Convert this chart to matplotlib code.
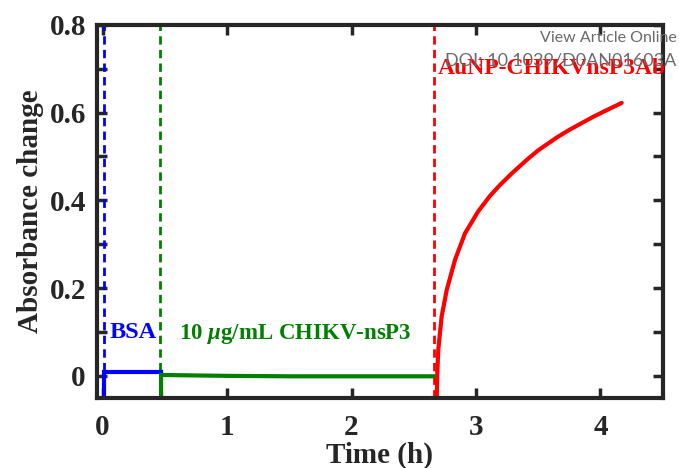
import matplotlib
matplotlib.use("Agg")
import matplotlib.pyplot as plt
from matplotlib.ticker import MultipleLocator

plt.rcParams['font.family'] = 'Liberation Serif'
plt.rcParams['font.weight'] = 'bold'
plt.rcParams['mathtext.fontset'] = 'custom'
plt.rcParams['mathtext.it'] = 'Liberation Serif:italic:bold'
plt.rcParams['mathtext.rm'] = 'Liberation Serif:bold'

# step traces (h, absorbance change)
bsa_t = [0.015, 0.015, 0.47]
bsa_a = [-0.06, 0.008, 0.008]
nsp3_t = [0.47, 0.47, 1.0, 1.5, 2.0, 2.68]
nsp3_a = [-0.06, 0.002, 0.000, -0.001, -0.001, -0.001]
# AuNP-Ab response
ab_t = [2.684, 2.689, 2.697, 2.724, 2.765, 2.831, 2.912, 3.018, 3.112, 3.193,
        3.29, 3.407, 3.50, 3.648, 3.74, 3.862, 3.96, 4.17]
ab_a = [-0.06, 0.006, 0.059, 0.135, 0.196, 0.264, 0.325, 0.375, 0.410, 0.435,
        0.462, 0.492, 0.514, 0.543, 0.559, 0.578, 0.593, 0.622]

# injection times
t_bsa = 0.015
t_nsp3 = 0.46
t_ab = 2.665

fig = plt.figure(figsize=(6.79, 4.68), dpi=100)
ax = fig.add_axes([0.143, 0.15, 0.833, 0.797])

for t, c in [(t_bsa, 'blue'), (t_nsp3, '#008000'), (t_ab, 'red')]:
    ax.axvline(t, color=c, ls='--', lw=2, dashes=(3, 1.9))

ax.plot(bsa_t, bsa_a, color='blue', lw=3, solid_joinstyle='miter')
ax.plot(nsp3_t, nsp3_a, color='#008000', lw=3, solid_joinstyle='miter')
ax.plot(ab_t, ab_a, color='red', lw=3, solid_joinstyle='round', solid_capstyle='round')

ax.text(0.06, 0.098, 'BSA', color='blue', fontsize=17.5, va='center')
ax.text(0.61, 0.095, r'10 $\mu$g/mL CHIKV-nsP3', color='#008000', fontsize=16.5, va='center')
ax.text(2.69, 0.70, 'AuNP-CHIKVnsP3Ab', color='red', fontsize=17, va='center')

ax.set_xlim(-0.044, 4.5)
ax.set_ylim(-0.05, 0.8)
ax.xaxis.set_major_locator(MultipleLocator(1))
ax.yaxis.set_minor_locator(MultipleLocator(0.1))
ax.set_yticks([0, 0.2, 0.4, 0.6, 0.8])
ax.set_yticklabels(['0', '0.2', '0.4', '0.6', '0.8'])
ax.tick_params(which='both', direction='in', top=True, right=True,
               labelsize=21, width=2.5, color='#262626', labelcolor='#262626', length=7)
ax.tick_params(axis='x', pad=12)
ax.tick_params(axis='y', pad=8)
for s in ax.spines.values():
    s.set_linewidth(3)
    s.set_color('#262626')

ax.set_xlabel('Time (h)', fontsize=21, fontweight='bold', color='#262626', labelpad=0)
ax.set_ylabel('Absorbance change', fontsize=21, fontweight='bold', color='#262626', labelpad=4)

fig.text(0.996, 0.918, 'View Article Online', color='#6a6a6a', fontsize=11.5,
         family='Lato', weight='normal', ha='right', va='center')
fig.text(0.996, 0.871, 'DOI: 10.1039/D0AN01603A', color='#6a6a6a', fontsize=13,
         family='Lato', weight='normal', ha='right', va='center')

fig.savefig('out.png', dpi=100)
